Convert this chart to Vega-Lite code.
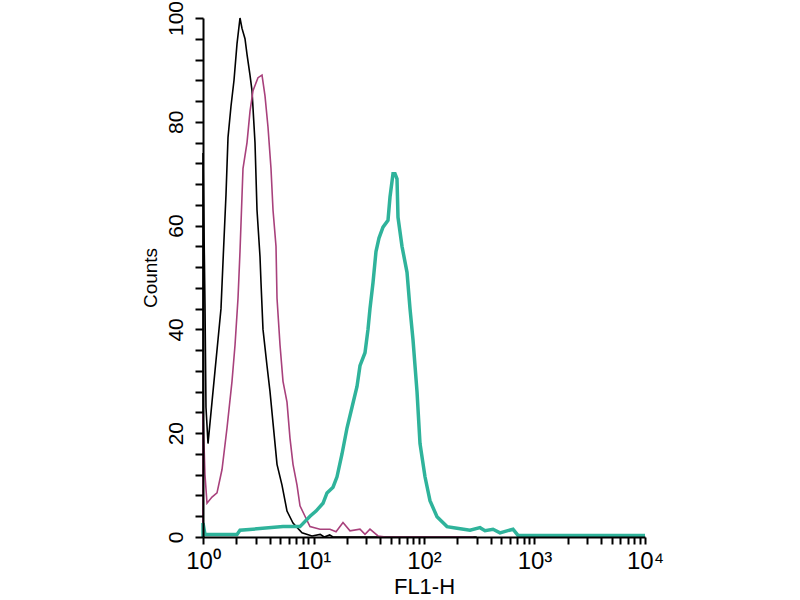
{
  "$schema": "https://vega.github.io/schema/vega-lite/v6.json",
  "autosize": "none",
  "padding": {"left": 203, "top": 18, "right": 155, "bottom": 63},
  "width": 442,
  "height": 519,
  "data": {
    "values": [
      {"s": "black", "x": 1, "y": 0}, {"s": "black", "x": 1, "y": 74}, {"s": "black", "x": 1.042, "y": 45},
      {"s": "black", "x": 1.064, "y": 25}, {"s": "black", "x": 1.11, "y": 18}, {"s": "black", "x": 1.206, "y": 26},
      {"s": "black", "x": 1.284, "y": 32}, {"s": "black", "x": 1.367, "y": 38}, {"s": "black", "x": 1.455, "y": 44},
      {"s": "black", "x": 1.517, "y": 53}, {"s": "black", "x": 1.615, "y": 66}, {"s": "black", "x": 1.684, "y": 77},
      {"s": "black", "x": 1.792, "y": 83}, {"s": "black", "x": 1.908, "y": 88}, {"s": "black", "x": 2.031, "y": 95},
      {"s": "black", "x": 2.162, "y": 100}, {"s": "black", "x": 2.254, "y": 98}, {"s": "black", "x": 2.399, "y": 96},
      {"s": "black", "x": 2.502, "y": 93}, {"s": "black", "x": 2.663, "y": 89}, {"s": "black", "x": 2.776, "y": 86},
      {"s": "black", "x": 2.955, "y": 76}, {"s": "black", "x": 3.081, "y": 63}, {"s": "black", "x": 3.28, "y": 54},
      {"s": "black", "x": 3.349, "y": 49}, {"s": "black", "x": 3.491, "y": 40}, {"s": "black", "x": 3.795, "y": 33},
      {"s": "black", "x": 4.04, "y": 28}, {"s": "black", "x": 4.301, "y": 22}, {"s": "black", "x": 4.675, "y": 14},
      {"s": "black", "x": 5.187, "y": 10}, {"s": "black", "x": 5.757, "y": 5}, {"s": "black", "x": 6.525, "y": 2.7},
      {"s": "black", "x": 7.87, "y": 0.8}, {"s": "black", "x": 9.69, "y": 0.2}, {"s": "black", "x": 11.5, "y": 0.5},
      {"s": "black", "x": 12.5, "y": 0}, {"s": "black", "x": 14, "y": 0.4}, {"s": "black", "x": 15, "y": 0},
      {"s": "black", "x": 300, "y": 0},

      {"s": "magenta", "x": 1, "y": 0}, {"s": "magenta", "x": 1, "y": 24}, {"s": "magenta", "x": 1.042, "y": 12},
      {"s": "magenta", "x": 1.087, "y": 6.5}, {"s": "magenta", "x": 1.206, "y": 7.7}, {"s": "magenta", "x": 1.339, "y": 8.5},
      {"s": "magenta", "x": 1.486, "y": 13}, {"s": "magenta", "x": 1.649, "y": 21}, {"s": "magenta", "x": 1.83, "y": 30},
      {"s": "magenta", "x": 1.949, "y": 37}, {"s": "magenta", "x": 2.074, "y": 46}, {"s": "magenta", "x": 2.162, "y": 55},
      {"s": "magenta", "x": 2.301, "y": 71}, {"s": "magenta", "x": 2.502, "y": 76}, {"s": "magenta", "x": 2.663, "y": 82},
      {"s": "magenta", "x": 2.835, "y": 86}, {"s": "magenta", "x": 3.146, "y": 88.5}, {"s": "magenta", "x": 3.42, "y": 89},
      {"s": "magenta", "x": 3.64, "y": 85}, {"s": "magenta", "x": 3.874, "y": 79}, {"s": "magenta", "x": 4.124, "y": 71},
      {"s": "magenta", "x": 4.301, "y": 63}, {"s": "magenta", "x": 4.578, "y": 56}, {"s": "magenta", "x": 4.675, "y": 46},
      {"s": "magenta", "x": 4.977, "y": 37}, {"s": "magenta", "x": 5.297, "y": 30}, {"s": "magenta", "x": 5.757, "y": 26},
      {"s": "magenta", "x": 6.129, "y": 19}, {"s": "magenta", "x": 6.525, "y": 14}, {"s": "magenta", "x": 7.092, "y": 10},
      {"s": "magenta", "x": 7.548, "y": 6}, {"s": "magenta", "x": 8.376, "y": 4}, {"s": "magenta", "x": 9.297, "y": 2},
      {"s": "magenta", "x": 11.45, "y": 1.5}, {"s": "magenta", "x": 14.1, "y": 1.5}, {"s": "magenta", "x": 16, "y": 1},
      {"s": "magenta", "x": 18.49, "y": 2.8}, {"s": "magenta", "x": 21.39, "y": 1.2}, {"s": "magenta", "x": 26.35, "y": 1.5},
      {"s": "magenta", "x": 29.25, "y": 0.5}, {"s": "magenta", "x": 32.45, "y": 1.5}, {"s": "magenta", "x": 38.35, "y": 0.2},
      {"s": "magenta", "x": 45, "y": 0}, {"s": "magenta", "x": 280, "y": 0},

      {"s": "teal", "x": 1, "y": 0}, {"s": "teal", "x": 1, "y": 2.7}, {"s": "teal", "x": 1.042, "y": 0.5},
      {"s": "teal", "x": 2.031, "y": 0.5}, {"s": "teal", "x": 2.162, "y": 1.3}, {"s": "teal", "x": 5.297, "y": 2},
      {"s": "teal", "x": 7.548, "y": 2}, {"s": "teal", "x": 9.297, "y": 4}, {"s": "teal", "x": 10.54, "y": 5},
      {"s": "teal", "x": 12.19, "y": 6.5}, {"s": "teal", "x": 13.25, "y": 8.5}, {"s": "teal", "x": 15.02, "y": 9.6},
      {"s": "teal", "x": 16.32, "y": 11.6}, {"s": "teal", "x": 18.11, "y": 16}, {"s": "teal", "x": 20.1, "y": 21},
      {"s": "teal", "x": 22.31, "y": 25}, {"s": "teal", "x": 24.76, "y": 29}, {"s": "teal", "x": 26.35, "y": 33},
      {"s": "teal", "x": 29.25, "y": 35.5}, {"s": "teal", "x": 31.13, "y": 40}, {"s": "teal", "x": 32.45, "y": 44},
      {"s": "teal", "x": 34.55, "y": 49}, {"s": "teal", "x": 36.77, "y": 55}, {"s": "teal", "x": 39.15, "y": 57.6},
      {"s": "teal", "x": 42.56, "y": 59.7}, {"s": "teal", "x": 47.22, "y": 61}, {"s": "teal", "x": 49.24, "y": 65.5},
      {"s": "teal", "x": 52.42, "y": 70}, {"s": "teal", "x": 54.65, "y": 70}, {"s": "teal", "x": 56.98, "y": 69},
      {"s": "teal", "x": 58.17, "y": 61.6}, {"s": "teal", "x": 63.23, "y": 56}, {"s": "teal", "x": 70.19, "y": 51},
      {"s": "teal", "x": 74.7, "y": 44}, {"s": "teal", "x": 79.52, "y": 38}, {"s": "teal", "x": 86.45, "y": 28},
      {"s": "teal", "x": 92.01, "y": 18}, {"s": "teal", "x": 102.1, "y": 11.6}, {"s": "teal", "x": 113.3, "y": 7},
      {"s": "teal", "x": 131.1, "y": 3.9}, {"s": "teal", "x": 161.5, "y": 2}, {"s": "teal", "x": 198.9, "y": 1.7},
      {"s": "teal", "x": 260.8, "y": 1.3}, {"s": "teal", "x": 321.3, "y": 1.8}, {"s": "teal", "x": 356.5, "y": 1.2},
      {"s": "teal", "x": 421.1, "y": 1.5}, {"s": "teal", "x": 487.3, "y": 0.8}, {"s": "teal", "x": 638.9, "y": 1.5},
      {"s": "teal", "x": 709, "y": 0.3}, {"s": "teal", "x": 10000, "y": 0.3}
    ]
  },
  "encoding": {
    "x": {
      "field": "x",
      "type": "quantitative",
      "title": "FL1-H",
      "scale": {"type": "log", "domain": [1, 10000], "nice": false},
      "axis": {
        "values": [1, 2, 3, 4, 5, 6, 7, 8, 9, 10, 20, 30, 40, 50, 60, 70, 80, 90, 100, 200, 300, 400, 500, 600, 700, 800, 900, 1000, 2000, 3000, 4000, 5000, 6000, 7000, 8000, 9000, 10000],
        "labelExpr": "datum.value == 1 ? '10⁰' : datum.value == 10 ? '10¹' : datum.value == 100 ? '10²' : datum.value == 1000 ? '10³' : datum.value == 10000 ? '10⁴' : ''",
        "grid": false,
        "domainColor": "#000000",
        "domainWidth": 2,
        "tickColor": "#000000",
        "tickWidth": 2,
        "tickSize": 7,
        "zindex": 1,
        "labelFont": "Liberation Sans",
        "labelColor": "#000000",
        "labelPadding": 5,
        "labelFontSize": 24,
        "labelOverlap": false,
        "labelFlush": false,
        "titleFont": "Liberation Sans",
        "titleColor": "#000000",
        "titleFontWeight": "normal",
        "titleFontSize": 22,
        "titlePadding": 3
      }
    },
    "y": {
      "field": "y",
      "type": "quantitative",
      "title": "Counts",
      "scale": {"domain": [0, 100], "nice": false},
      "axis": {
        "values": [0, 4, 8, 12, 16, 20, 24, 28, 32, 36, 40, 44, 48, 52, 56, 60, 64, 68, 72, 76, 80, 84, 88, 92, 96, 100],
        "labelExpr": "datum.value % 20 == 0 ? datum.label : ''",
        "grid": false,
        "domainColor": "#000000",
        "domainWidth": 2,
        "tickColor": "#000000",
        "tickWidth": 2,
        "tickSize": 8,
        "zindex": 1,
        "labelAngle": -90,
        "labelAlign": "center",
        "labelBaseline": "bottom",
        "labelFont": "Liberation Sans",
        "labelColor": "#000000",
        "labelPadding": 9,
        "labelFontSize": 21,
        "labelOverlap": false,
        "labelFlush": false,
        "titleFont": "Liberation Sans",
        "titleColor": "#000000",
        "titleFontWeight": "normal",
        "titleFontSize": 19,
        "titlePadding": 5
      }
    }
  },
  "layer": [
    {
      "transform": [{"filter": "datum.s == 'black'"}],
      "mark": {"type": "line", "color": "#000000", "strokeWidth": 1.6, "interpolate": "linear"}
    },
    {
      "transform": [{"filter": "datum.s == 'magenta'"}],
      "mark": {"type": "line", "color": "#a8417c", "strokeWidth": 1.6, "interpolate": "linear"}
    },
    {
      "transform": [{"filter": "datum.s == 'teal'"}],
      "mark": {"type": "line", "color": "#2fb39b", "strokeWidth": 3.5, "interpolate": "linear"}
    }
  ],
  "config": {
    "view": {"stroke": "transparent"}
  }
}
